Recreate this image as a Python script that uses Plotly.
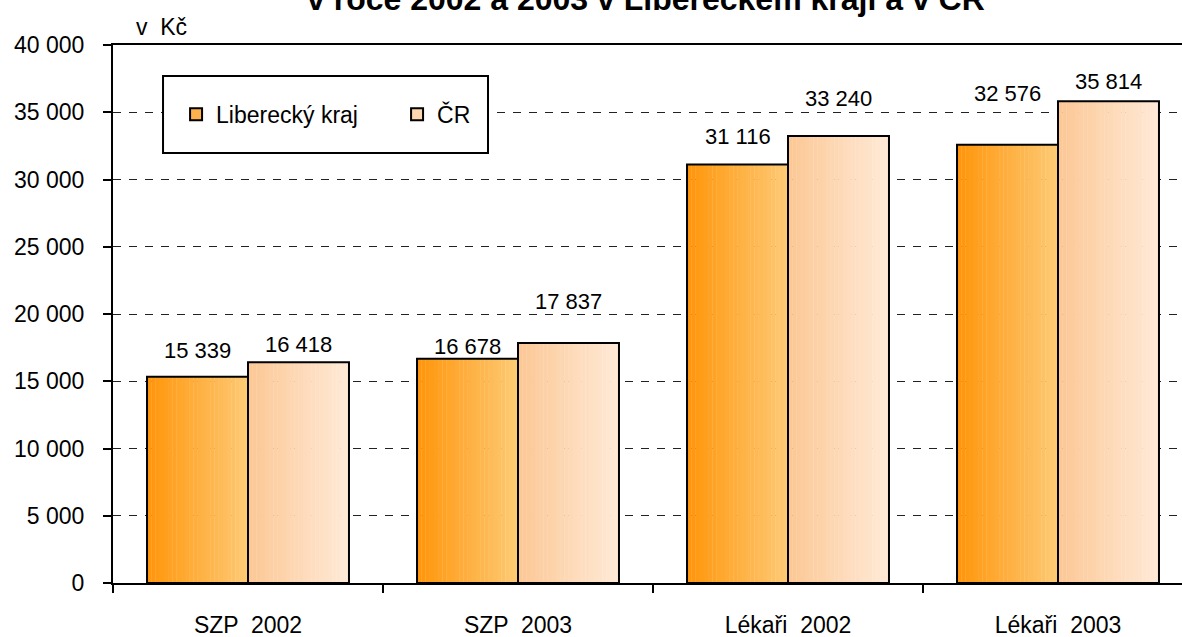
import plotly.graph_objects as go

categories = ["SZP  2002", "SZP  2003", "Lékaři  2002", "Lékaři  2003"]
series_names = ["Liberecký kraj", "ČR"]
liberec = [15339, 16678, 31116, 32576]
cr = [16418, 17837, 33240, 35814]
y_ticks = [0, 5000, 10000, 15000, 20000, 25000, 30000, 35000, 40000]

# label vertical offsets in px (style only)
label_offsets = [[26, 18], [12, 42], [28, 37], [51, 20]]

grad = {
    0: ((255, 150, 12), (254, 201, 115)),
    1: ((252, 200, 150), (255, 233, 214)),
}
legend_fill = ["#FDB24E", "#FED6B0"]

BAR_W = 0.374
N = 24

fig = go.Figure()
series_vals = [liberec, cr]
for s, vals in enumerate(series_vals):
    base_off = -BAR_W if s == 0 else 0.0
    c0, c1 = grad[s]
    for k in range(N):
        t = k / (N - 1)
        col = "rgb(%d,%d,%d)" % tuple(round(a + (b - a) * t) for a, b in zip(c0, c1))
        fig.add_trace(go.Bar(
            x=categories, y=vals,
            offset=base_off + k * BAR_W / N, width=BAR_W / N * 1.08,
            marker=dict(color=col, line=dict(width=0)),
            showlegend=False, hoverinfo="skip",
        ))
    # outline
    fig.add_trace(go.Bar(
        x=categories, y=vals, offset=base_off, width=BAR_W,
        marker=dict(color="rgba(0,0,0,0)", line=dict(color="black", width=2)),
        showlegend=False, name=series_names[s],
    ))

# legend-only entries
for s in range(2):
    fig.add_trace(go.Bar(
        x=categories, y=[None] * len(categories), name=series_names[s],
        marker=dict(color=legend_fill[s], line=dict(color="black", width=2)),
    ))

# data labels
for s, vals in enumerate(series_vals):
    for i, v in enumerate(vals):
        fig.add_annotation(
            x=categories[i], y=v, xref="x", yref="y",
            text=f"{v:,}".replace(",", " "),
            showarrow=False, yanchor="middle",
            xshift=(-1 if s == 0 else 1) * 50.5,
            yshift=label_offsets[i][s],
            font=dict(size=22, color="black"),
        )

fig.add_annotation(x=0.499, y=1.048, xref="paper", yref="paper",
                   text="<b>v roce 2002 a 2003 v Libereckém kraji a v ČR</b>",
                   showarrow=False, yanchor="bottom", xanchor="center",
                   font=dict(size=32, color="black"))
fig.add_annotation(x=0.0458, y=1.0335, xref="paper", yref="paper",
                   text="v  Kč", showarrow=False, yanchor="middle", xanchor="center",
                   font=dict(size=23, color="black"))

fig.add_shape(type="rect", xref="paper", yref="paper",
              x0=0.0468, x1=0.3508, y0=0.7993, y1=0.9424,
              line=dict(color="black", width=2), fillcolor="white", layer="above")

fig.update_layout(
    width=1182, height=637,
    margin=dict(l=113, r=0, t=45, b=54, autoexpand=False),
    paper_bgcolor="white", plot_bgcolor="white",
    barmode="overlay",
    font=dict(family="Arial, Liberation Sans, sans-serif", size=23, color="black"),
    separators=", ",
    showlegend=True,
    legend=dict(orientation="h", x=0.059, y=0.871, xanchor="left", yanchor="middle",
                bgcolor="rgba(0,0,0,0)", borderwidth=0, font=dict(size=23),
                entrywidth=176, traceorder="normal"),
    xaxis=dict(
        range=[-0.5, -0.5 + 1069 / 270], showline=True, linecolor="black", linewidth=2,
        mirror=True, ticks="outside", tickson="boundaries", ticklen=8, tickwidth=2,
        tickcolor="black", showgrid=False, ticklabelstandoff=20, fixedrange=True,
        automargin=False,
    ),
    yaxis=dict(
        range=[0, 40000], tickvals=y_ticks, tickformat=",d",
        showline=True, linecolor="black", linewidth=2, ticks="outside", ticklen=8,
        tickwidth=2, tickcolor="black", showgrid=True, gridcolor="#222",
        griddash="8px,8px", gridwidth=1, zeroline=False, ticklabelstandoff=14,
        automargin=False,
    ),
)

fig.write_html(
    "out.html",
    config={"displayModeBar": False},
    post_script="document.body.style.margin='0';document.body.style.overflow='hidden';",
)
